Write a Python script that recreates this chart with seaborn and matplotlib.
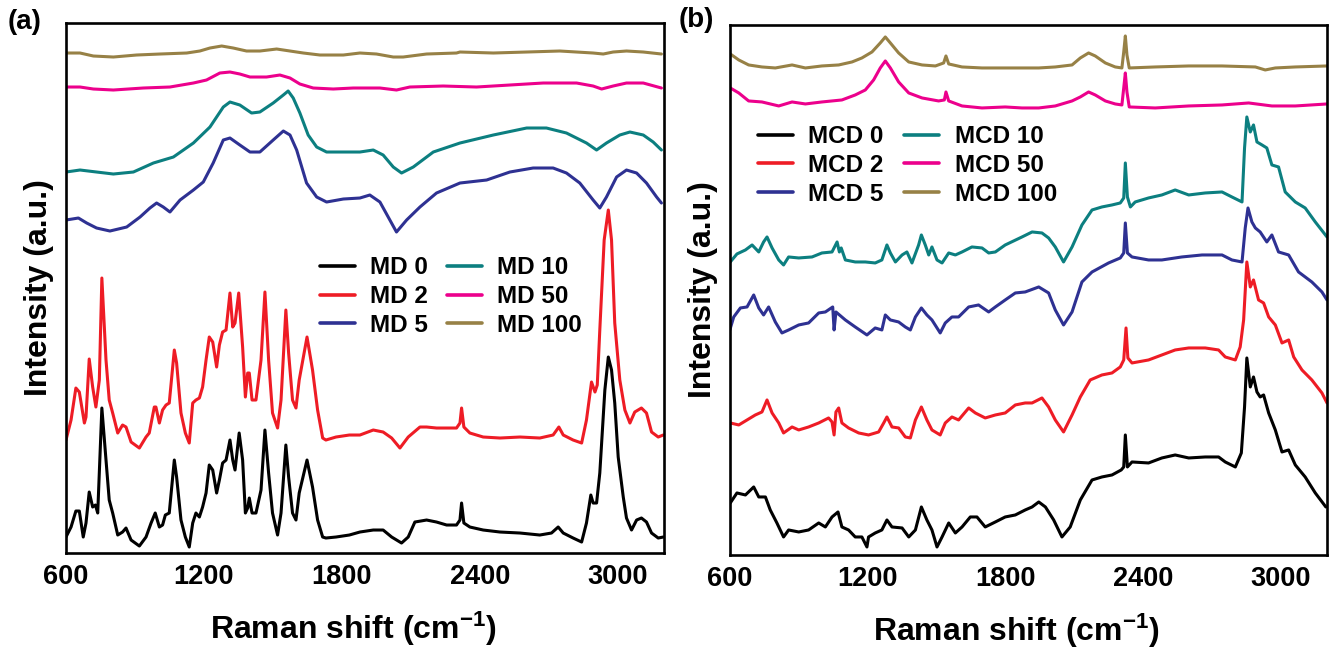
#
# Raman spectra of MD / MCD samples, two panels side by side
#

import pandas as pd
import matplotlib
matplotlib.use("Agg")
from matplotlib import pyplot as plt
from matplotlib.ticker import MultipleLocator
import seaborn as sns

#
# Data: (Raman shift in cm-1, intensity in a.u.)
#

# panel (a)
md0 = [(600,16),(622,26),(643,42),(658,42),(675,16),(687,30),(701,61),(716,46),(728,48),(738,40),
       (756,145),(774,93),(788,53),(803,40),(825,18),(846,21),(861,25),(883,13),(919,7),(948,16),
       (970,30),(988,40),(1006,26),(1020,28),(1032,38),(1049,40),(1071,93),(1081,76),(1100,33),(1119,16),
       (1136,6),(1151,30),(1165,40),(1180,36),(1194,46),(1209,60),(1223,88),(1238,83),(1255,60),(1267,73),
       (1281,90),(1296,93),(1313,113),(1325,93),(1335,83),(1353,120),(1368,93),(1380,40),(1390,45),(1397,55),
       (1409,40),(1426,40),(1448,63),(1465,123),(1481,80),(1498,40),(1520,18),(1535,40),(1556,108),(1568,76),
       (1585,40),(1600,33),(1614,60),(1648,93),(1672,66),(1694,33),(1716,16),(1730,15),(1774,16),(1832,18),
       (1878,21),(1936,23),(1979,23),(2016,16),(2059,10),(2088,16),(2117,31),(2168,33),(2211,31),(2255,28),
       (2298,28),(2313,33),(2320,50),(2330,30),(2356,26),(2414,23),(2487,21),(2574,20),(2660,18),(2711,20),
       (2740,26),(2762,20),(2805,15),(2842,11),(2863,30),(2882,58),(2892,50),(2907,50),(2921,80),(2943,163),
       (2958,196),(2972,183),(2986,150),(3001,96),(3023,56),(3037,35),(3059,23),(3081,33),(3102,35),(3124,31),
       (3146,20),(3175,15),(3197,16)]

md2 = [(600,113),(622,133),(643,165),(658,161),(680,130),(687,136),(701,194),(716,166),(730,146),(745,173),
       (756,275),(774,193),(788,153),(803,140),(825,120),(846,128),(861,126),(883,111),(919,105),(948,116),
       (962,120),(984,146),(991,146),(1006,130),(1020,143),(1035,148),(1049,150),(1071,203),(1081,190),(1100,140),
       (1119,120),(1136,110),(1151,150),(1165,153),(1180,155),(1194,166),(1209,193),(1223,216),(1238,211),(1255,186),
       (1267,208),(1281,221),(1296,223),(1313,260),(1325,226),(1335,230),(1351,260),(1368,206),(1380,156),(1390,180),
       (1397,180),(1409,153),(1426,153),(1448,193),(1465,261),(1481,193),(1498,140),(1520,125),(1535,153),(1556,243),
       (1568,200),(1585,153),(1600,145),(1614,173),(1648,216),(1672,183),(1694,143),(1716,115),(1730,113),(1774,116),
       (1832,118),(1878,118),(1936,123),(1979,121),(2016,115),(2052,105),(2088,116),(2139,126),(2168,126),(2211,125),
       (2255,125),(2298,125),(2313,130),(2320,145),(2330,126),(2356,120),(2414,116),(2487,115),(2574,116),(2660,115),
       (2718,118),(2743,126),(2762,118),(2805,113),(2842,110),(2863,133),(2885,171),(2900,161),(2910,168),(2921,223),
       (2940,313),(2958,343),(2972,313),(2986,230),(3008,173),(3030,143),(3052,130),(3073,141),(3102,145),(3124,140),
       (3146,121),(3175,116),(3197,118)]

md5 = [(600,333),(654,335),(690,330),(733,325),(791,322),(864,326),(922,336),(965,345),(994,350),(1023,346),
       (1052,341),(1096,353),(1154,363),(1197,371),(1240,390),(1284,413),(1313,415),(1356,408),(1400,401),(1443,401),
       (1501,413),(1545,422),(1574,418),(1603,403),(1646,370),(1690,356),(1733,351),(1806,354),(1878,355),(1921,358),
       (1965,351),(2001,336),(2037,321),(2081,333),(2139,346),(2211,360),(2313,370),(2429,373),(2530,381),(2631,385),
       (2718,385),(2776,380),(2834,370),(2892,353),(2921,345),(2950,356),(2994,376),(3037,383),(3081,380),(3124,370),
       (3168,356),(3189,350)]

md10 = [(600,381),(661,383),(733,381),(806,379),(893,381),(980,390),(1067,396),(1154,410),(1226,426),(1284,446),
        (1313,451),(1356,448),(1407,440),(1443,441),(1501,450),(1545,458),(1566,462),(1588,455),(1617,440),(1653,418),
        (1690,406),(1733,401),(1806,401),(1878,401),(1936,403),(1979,398),(2023,386),(2059,380),(2110,386),(2197,401),
        (2313,410),(2458,418),(2603,425),(2689,425),(2776,420),(2863,410),(2907,403),(2950,410),(3008,418),(3052,421),
        (3110,418),(3153,411),(3189,403)]

md50 = [(600,466),(661,466),(719,464),(806,463),(936,465),(1052,466),(1154,470),(1211,473),(1269,480),(1313,481),
        (1356,479),(1400,476),(1472,476),(1530,478),(1574,475),(1617,469),(1675,465),(1762,464),(1849,465),(1965,465),
        (2037,463),(2095,466),(2240,467),(2385,466),(2530,468),(2675,470),(2820,470),(2892,467),(2929,464),(2979,467),
        (3037,470),(3110,470),(3189,465)]

md100 = [(600,500),(661,500),(719,497),(806,496),(907,498),(1009,499),(1125,500),(1182,502),(1226,505),(1277,507),
         (1327,505),(1385,502),(1443,502),(1516,504),(1574,502),(1632,500),(1704,498),(1806,498),(1878,500),(1950,499),
         (2023,496),(2066,496),(2168,499),(2298,500),(2313,501),(2458,500),(2603,501),(2747,502),(2892,500),(2936,499),
         (2979,501),(3037,502),(3110,501),(3189,499)]

# panel (b)
mcd0 = [(602,52),(631,62),(668,60),(704,68),(726,58),(755,58),(776,45),(805,32),(834,18),(856,25),
        (900,23),(943,25),(987,32),(1016,28),(1045,38),(1071,43),(1088,28),(1117,25),(1146,18),(1175,18),
        (1197,8),(1204,18),(1233,22),(1262,25),(1284,35),(1306,28),(1350,27),(1379,18),(1408,25),(1434,48),
        (1458,35),(1480,25),(1502,8),(1524,18),(1553,32),(1582,22),(1611,28),(1647,38),(1676,38),(1712,28),
        (1756,33),(1799,38),(1843,40),(1886,45),(1916,48),(1945,53),(1974,48),(2010,35),(2046,18),(2082,28),
        (2126,55),(2177,75),(2220,78),(2264,80),(2304,85),(2315,88),(2322,120),(2331,88),(2351,93),(2423,92),
        (2481,97),(2539,100),(2598,97),(2670,98),(2728,98),(2757,93),(2801,88),(2827,102),(2841,148),(2851,197),
        (2866,168),(2880,178),(2895,163),(2909,158),(2924,160),(2946,142),(2975,125),(3004,103),(3033,105),(3062,90),
        (3105,78),(3149,62),(3195,48)]

mcd2 = [(602,132),(639,130),(675,135),(711,140),(740,143),(762,155),(784,142),(813,132),(834,122),(871,128),
        (900,125),(943,128),(987,132),(1030,137),(1045,133),(1054,120),(1062,143),(1074,147),(1088,132),(1117,127),
        (1161,122),(1204,120),(1248,123),(1270,132),(1284,138),(1306,128),(1335,127),(1364,118),(1386,117),(1408,135),
        (1434,148),(1458,135),(1480,125),(1516,120),(1538,132),(1567,138),(1596,135),(1640,147),(1669,142),(1712,137),
        (1756,140),(1799,142),(1843,150),(1886,152),(1916,152),(1959,157),(1988,148),(2017,135),(2053,123),(2090,140),
        (2126,158),(2169,175),(2220,180),(2264,182),(2300,188),(2315,195),(2325,227),(2333,197),(2351,192),(2423,195),
        (2481,200),(2539,205),(2598,207),(2670,207),(2728,205),(2757,198),(2801,195),(2822,208),(2837,235),(2851,293),
        (2866,268),(2880,275),(2902,255),(2924,252),(2946,238),(2975,230),(3004,212),(3033,215),(3055,198),(3091,185),
        (3134,175),(3178,162),(3200,152)]

mcd5 = [(600,225),(617,238),(646,247),(675,248),(704,260),(726,247),(747,240),(769,248),(798,233),(827,222),
        (856,225),(900,230),(943,232),(987,242),(1016,243),(1048,248),(1054,225),(1062,243),(1103,235),(1146,228),
        (1197,220),(1233,227),(1262,225),(1277,240),(1299,235),(1335,233),(1364,228),(1386,225),(1408,238),(1434,247),
        (1458,240),(1480,235),(1516,222),(1538,232),(1567,238),(1596,238),(1640,248),(1683,250),(1727,243),(1756,248),
        (1799,255),(1843,262),(1886,263),(1945,268),(1988,262),(2017,245),(2053,230),(2090,243),(2133,273),(2177,283),
        (2249,292),(2300,297),(2315,302),(2322,332),(2331,302),(2351,298),(2423,295),(2481,295),(2568,298),(2656,300),
        (2743,300),(2786,295),(2830,293),(2844,327),(2856,347),(2873,333),(2888,327),(2909,323),(2938,313),(2960,320),
        (2989,303),(3033,300),(3076,283),(3134,273),(3178,263),(3200,255)]

mcd10 = [(602,293),(631,301),(668,305),(697,310),(726,303),(747,313),(762,318),(784,307),(813,295),(834,290),
         (856,298),(900,297),(958,298),(1001,302),(1045,303),(1067,313),(1077,303),(1085,307),(1103,295),(1146,293),
         (1190,293),(1233,292),(1262,295),(1284,310),(1299,302),(1321,293),(1350,300),(1371,303),(1393,292),(1422,310),
         (1434,320),(1451,310),(1466,300),(1480,308),(1502,295),(1524,292),(1553,302),(1582,300),(1611,303),(1654,308),
         (1698,307),(1727,302),(1756,303),(1799,310),(1872,318),(1916,323),(1959,322),(1988,317),(2017,308),(2053,293),
         (2090,308),(2133,330),(2177,345),(2220,348),(2264,350),(2300,352),(2315,357),(2322,392),(2331,358),(2344,348),
         (2365,353),(2423,357),(2481,360),(2539,365),(2598,360),(2670,362),(2743,363),(2786,358),(2830,353),(2841,407),
         (2851,438),(2866,423),(2880,430),(2895,413),(2917,410),(2938,407),(2960,390),(2989,388),(3018,363),(3062,353),
         (3105,347),(3149,333),(3200,318)]

mcd50 = [(602,467),(639,462),(682,454),(740,453),(813,449),(871,453),(929,451),(1001,453),(1088,455),(1146,460),
         (1190,465),(1226,475),(1255,487),(1277,494),(1299,487),(1335,473),(1379,462),(1437,457),(1509,454),(1534,455),
         (1541,463),(1553,454),(1611,449),(1698,447),(1799,448),(1872,447),(1945,447),(2017,449),(2090,454),(2126,458),
         (2162,463),(2191,460),(2235,454),(2278,451),(2307,450),(2315,467),(2322,482),(2329,463),(2339,448),(2452,447),
         (2598,449),(2743,450),(2859,452),(2960,449),(3062,449),(3200,451)]

mcd100 = [(602,501),(639,495),(682,490),(740,488),(798,487),(871,490),(929,487),(1001,489),(1074,490),(1132,493),
          (1175,497),(1219,503),(1255,512),(1277,518),(1299,512),(1335,502),(1379,493),(1437,490),(1495,489),(1531,492),
          (1541,499),(1553,491),(1611,488),(1698,487),(1799,487),(1872,487),(1945,487),(2017,488),(2090,490),(2126,497),
          (2162,502),(2191,499),(2235,492),(2278,488),(2307,487),(2315,503),(2322,519),(2329,500),(2339,487),(2452,488),
          (2598,489),(2743,489),(2888,488),(2931,485),(2975,487),(3062,488),(3200,489)]

md_names = ["MD 0", "MD 2", "MD 5", "MD 10", "MD 50", "MD 100"]
mcd_names = ["MCD 0", "MCD 2", "MCD 5", "MCD 10", "MCD 50", "MCD 100"]
line_colors = ["#000000", "#ee1c25", "#2e3192", "#0c7f80", "#ec008c", "#978146"]


def to_frame(names, spectra):
    rows = []
    for name, spec in zip(names, spectra):
        for shift, inten in spec:
            rows.append({"shift": shift, "intensity": inten, "sample": name})
    return pd.DataFrame(rows)


df_a = to_frame(md_names, [md0, md2, md5, md10, md50, md100])
df_b = to_frame(mcd_names, [mcd0, mcd2, mcd5, mcd10, mcd50, mcd100])

#
# Style
#

sns.set_style("white")
plt.rcParams['font.family'] = ['Liberation Sans', 'DejaVu Sans']
plt.rcParams['font.weight'] = 'bold'
plt.rcParams['axes.labelweight'] = 'bold'
plt.rcParams['text.color'] = 'black'
plt.rcParams['axes.labelcolor'] = 'black'
plt.rcParams['xtick.color'] = 'black'
plt.rcParams['ytick.color'] = 'black'
plt.rcParams['mathtext.fontset'] = 'custom'
plt.rcParams['mathtext.rm'] = 'Liberation Sans:bold'
plt.rcParams['mathtext.bf'] = 'Liberation Sans:bold'
plt.rcParams['mathtext.default'] = 'bf'

fig = plt.figure(figsize=(13.33, 6.5), dpi=100)
ax_a = fig.add_axes([0.0495, 0.1492, 0.4486, 0.8154])
ax_b = fig.add_axes([0.5475, 0.1462, 0.448, 0.8154])

# axes, frame, legend names, legend corner, column gap
panels = [
    (ax_a, df_a, md_names, (0.425, 0.560), 0.75),
    (ax_b, df_b, mcd_names, (0.047, 0.811), 0.85),
]

for ax, df, names, leg_pos, colspace in panels:
    sns.lineplot(data=df, x="shift", y="intensity", hue="sample", hue_order=names,
                 palette=line_colors, estimator=None, sort=False, linewidth=2.2, ax=ax)
    sns.move_legend(ax, "upper left", bbox_to_anchor=leg_pos, ncol=2, frameon=False,
                    title=None, fontsize=17.5, handlelength=1.45, handletextpad=0.62,
                    columnspacing=colspace, labelspacing=0.24, borderpad=0, borderaxespad=0)
    for line in ax.get_legend().get_lines():
        line.set_linewidth(2.6)

    ax.set_xlim(600, 3200)
    ax.set_ylim(0, 530)
    ax.xaxis.set_major_locator(MultipleLocator(600))
    ax.xaxis.set_minor_locator(MultipleLocator(300))
    ax.set_yticks([7, 267])
    ax.set_yticklabels([])
    ax.tick_params(axis='both', which='both', direction='in', top=False, right=False)
    ax.tick_params(axis='x', which='major', length=7, width=1.8, labelsize=19.5, pad=8)
    ax.tick_params(axis='x', which='minor', length=4, width=1.8)
    ax.tick_params(axis='y', which='major', length=4, width=1.8)
    for spine in ax.spines.values():
        spine.set_linewidth(1.9)
        spine.set_color("black")

    ax.set_xlabel("Raman shift (cm$^{-1}$)", fontsize=23, fontweight='bold', labelpad=14)
    ax.xaxis.label.set_x(0.48)
    ax.set_ylabel("Intensity (a.u.)", fontsize=23, fontweight='bold', labelpad=5)

# panel letters
fig.text(0.006, 0.966, "(a)", fontsize=20, fontweight='bold', va='center', ha='left')
fig.text(0.509, 0.969, "(b)", fontsize=20, fontweight='bold', va='center', ha='left')

fig.savefig("out.png", dpi=100)
